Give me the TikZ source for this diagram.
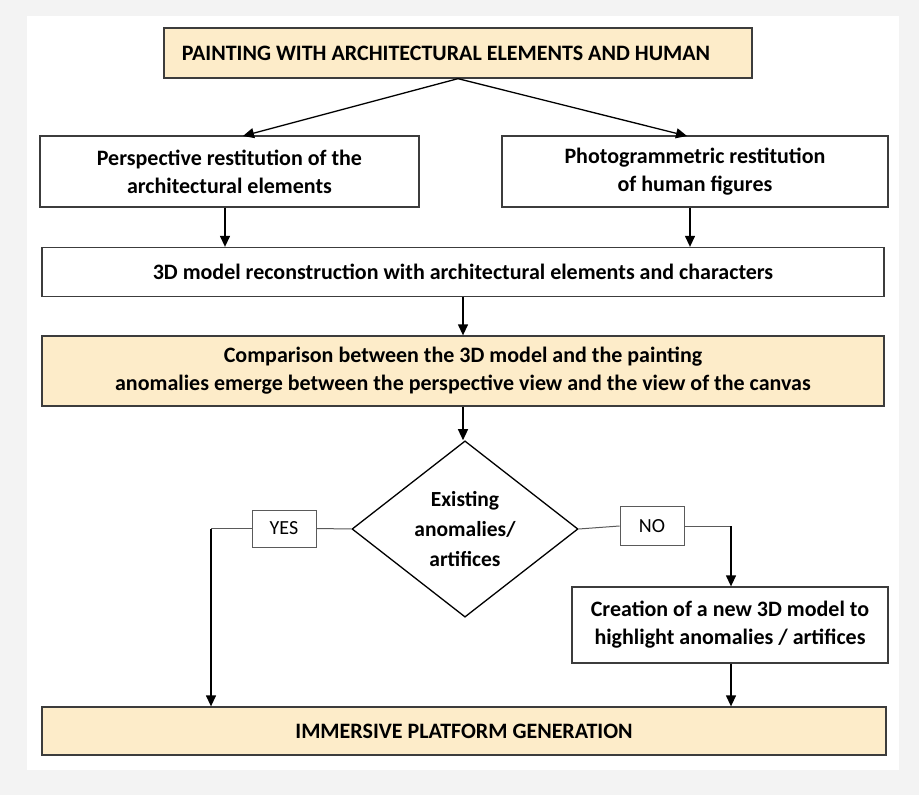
\documentclass[tikz,border=0pt]{standalone}
\usepackage{fontspec}
\setmainfont{Carlito}
\usetikzlibrary{arrows.meta,shapes.geometric}
\definecolor{bgout}{RGB}{243,243,243}
\definecolor{boxfill}{RGB}{253,236,201}
\definecolor{boxline}{RGB}{60,60,60}
\definecolor{thinline}{RGB}{90,90,90}
\tikzset{
  bx/.style={draw=boxline,line width=1.3pt,inner sep=0pt,font=\fontsize{22}{28}\selectfont\bfseries,align=center},
  hl/.style={bx,fill=boxfill},
  lab/.style={draw=thinline,line width=0.9pt,inner sep=0pt,font=\fontsize{20}{22}\selectfont,minimum width=64pt,minimum height=37pt},
  arr/.style={draw=black,line width=1.3pt,-{Triangle[length=11pt,width=10pt]}},
  ln/.style={draw=thinline,line width=1pt}
}
\begin{document}
\begin{tikzpicture}[x=1pt,y=-1pt]
\fill[bgout] (0,0) rectangle (919,795);
\fill[white] (27,16) rectangle (899,770);
\useasboundingbox (0,0) rectangle (919,795);
\node[hl,minimum width=588pt,minimum height=50pt] (top) at (458,53) {\hspace*{-12pt}PAINTING WITH ARCHITECTURAL ELEMENTS AND HUMAN\hspace*{12pt}};
\node[bx,minimum width=379pt,minimum height=71pt] (pers) at (229.5,171.5) {Perspective restitution of the\\architectural elements};
\node[bx,minimum width=386pt,minimum height=71pt] (photo) at (695,171.5) {Photogrammetric restitution\\of human figures};
\node[bx,minimum width=842pt,minimum height=49pt] (model) at (463,272) {3D model reconstruction with architectural elements and characters};
\node[hl,minimum width=842pt,minimum height=70pt] (comp) at (463,371) {Comparison between the 3D model and the painting\\anomalies emerge between the perspective view and the view of the canvas};
\node[draw=black,line width=1.3pt,diamond,minimum width=226pt,minimum height=168pt,inner sep=0pt,font=\fontsize{21.5}{30}\selectfont\bfseries,align=center] (dia) at (465,529) {Existing\\anomalies/\\artifices};
\node[lab] (yes) at (284,528.5) {YES};
\node[lab,minimum height=39pt] (no) at (652,526) {NO};
\node[bx,minimum width=316pt,minimum height=76pt] (create) at (730,625) {Creation of a new 3D model to\\highlight anomalies / artifices};
\node[hl,minimum width=844pt,minimum height=48pt] (imm) at (464,731) {IMMERSIVE PLATFORM GENERATION};
\coordinate (yc) at (211,528.5);
\coordinate (nc) at (731,526);
\draw[arr] (top.south) -- (243,136);
\draw[arr] (top.south) -- (687,136);
\draw[arr] (pers.south -| 225,0) -- (model.north -| 225,0);
\draw[arr] (photo.south -| 690,0) -- (model.north -| 690,0);
\draw[arr] (model.south -| 463,0) -- (comp.north -| 463,0);
\draw[arr] (comp.south -| 463,0) -- (dia.north -| 463,0);
\draw[ln] (dia.west) -- (yes.east);
\draw[ln] (yes.west) -- (yc);
\draw[arr] (yc) -- (imm.north -| yc);
\draw[ln] (dia.east) -- (no.west);
\draw[ln] (no.east) -- (nc);
\draw[arr] (nc) -- (create.north -| nc);
\draw[arr] (create.south -| nc) -- (imm.north -| nc);
\end{tikzpicture}
\end{document}
